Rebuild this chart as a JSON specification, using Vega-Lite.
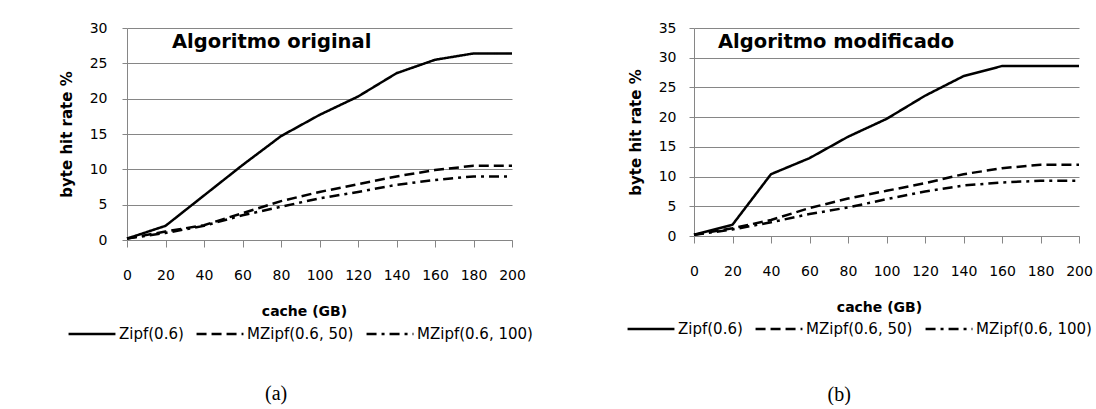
{
  "$schema": "https://vega.github.io/schema/vega-lite/v6.json",
  "background": "white",
  "padding": {"left": 59, "top": 21, "right": 0, "bottom": 0},
  "config": {
    "font": "DejaVu Sans",
    "view": {"stroke": null},
    "axis": {
      "labelFont": "DejaVu Sans", "labelFontSize": 14, "labelColor": "#000000", "labelOverlap": false, "labelFlush": false,
      "titleFont": "DejaVu Sans", "titleFontSize": 15, "titleFontWeight": "bold", "titleColor": "#000000",
      "domainColor": "#868686", "tickColor": "#868686", "gridColor": "#868686",
      "domainWidth": 1, "tickWidth": 1, "gridWidth": 1, "gridOpacity": 1
    },
    "legend": {
      "title": null, "orient": "none", "direction": "horizontal",
      "symbolType": "stroke", "symbolSize": 2200, "symbolStrokeWidth": 2.5, "symbolStrokeColor": "#000000",
      "labelFont": "DejaVu Sans", "labelFontSize": 15, "labelColor": "#000000", "labelOffset": 2, "columnPadding": 7
    },
    "title": {"font": "DejaVu Sans", "fontWeight": "bold", "fontSize": 19.5, "color": "#000000"},
    "concat": {"spacing": 93}
  },
  "data": {"values": [
    {"panel": "a", "series": "Zipf(0.6)", "cache": 0, "rate": 0.2},
    {"panel": "a", "series": "Zipf(0.6)", "cache": 20, "rate": 2.0},
    {"panel": "a", "series": "Zipf(0.6)", "cache": 40, "rate": 6.3},
    {"panel": "a", "series": "Zipf(0.6)", "cache": 60, "rate": 10.6},
    {"panel": "a", "series": "Zipf(0.6)", "cache": 80, "rate": 14.7},
    {"panel": "a", "series": "Zipf(0.6)", "cache": 100, "rate": 17.7},
    {"panel": "a", "series": "Zipf(0.6)", "cache": 120, "rate": 20.3},
    {"panel": "a", "series": "Zipf(0.6)", "cache": 140, "rate": 23.6},
    {"panel": "a", "series": "Zipf(0.6)", "cache": 160, "rate": 25.5},
    {"panel": "a", "series": "Zipf(0.6)", "cache": 180, "rate": 26.4},
    {"panel": "a", "series": "Zipf(0.6)", "cache": 200, "rate": 26.4},
    {"panel": "a", "series": "MZipf(0.6, 50)", "cache": 0, "rate": 0.2},
    {"panel": "a", "series": "MZipf(0.6, 50)", "cache": 20, "rate": 1.2},
    {"panel": "a", "series": "MZipf(0.6, 50)", "cache": 40, "rate": 2.1},
    {"panel": "a", "series": "MZipf(0.6, 50)", "cache": 60, "rate": 3.8},
    {"panel": "a", "series": "MZipf(0.6, 50)", "cache": 80, "rate": 5.5},
    {"panel": "a", "series": "MZipf(0.6, 50)", "cache": 100, "rate": 6.8},
    {"panel": "a", "series": "MZipf(0.6, 50)", "cache": 120, "rate": 7.9},
    {"panel": "a", "series": "MZipf(0.6, 50)", "cache": 140, "rate": 9.0},
    {"panel": "a", "series": "MZipf(0.6, 50)", "cache": 160, "rate": 9.9},
    {"panel": "a", "series": "MZipf(0.6, 50)", "cache": 180, "rate": 10.5},
    {"panel": "a", "series": "MZipf(0.6, 50)", "cache": 200, "rate": 10.5},
    {"panel": "a", "series": "MZipf(0.6, 100)", "cache": 0, "rate": 0.2},
    {"panel": "a", "series": "MZipf(0.6, 100)", "cache": 20, "rate": 1.0},
    {"panel": "a", "series": "MZipf(0.6, 100)", "cache": 40, "rate": 2.0},
    {"panel": "a", "series": "MZipf(0.6, 100)", "cache": 60, "rate": 3.5},
    {"panel": "a", "series": "MZipf(0.6, 100)", "cache": 80, "rate": 4.7},
    {"panel": "a", "series": "MZipf(0.6, 100)", "cache": 100, "rate": 5.9},
    {"panel": "a", "series": "MZipf(0.6, 100)", "cache": 120, "rate": 6.8},
    {"panel": "a", "series": "MZipf(0.6, 100)", "cache": 140, "rate": 7.8},
    {"panel": "a", "series": "MZipf(0.6, 100)", "cache": 160, "rate": 8.5},
    {"panel": "a", "series": "MZipf(0.6, 100)", "cache": 180, "rate": 9.0},
    {"panel": "a", "series": "MZipf(0.6, 100)", "cache": 200, "rate": 9.0},
    {"panel": "b", "series": "Zipf(0.6)", "cache": 0, "rate": 0.2},
    {"panel": "b", "series": "Zipf(0.6)", "cache": 20, "rate": 1.9},
    {"panel": "b", "series": "Zipf(0.6)", "cache": 40, "rate": 10.4},
    {"panel": "b", "series": "Zipf(0.6)", "cache": 60, "rate": 13.1},
    {"panel": "b", "series": "Zipf(0.6)", "cache": 80, "rate": 16.7},
    {"panel": "b", "series": "Zipf(0.6)", "cache": 100, "rate": 19.7},
    {"panel": "b", "series": "Zipf(0.6)", "cache": 120, "rate": 23.6},
    {"panel": "b", "series": "Zipf(0.6)", "cache": 140, "rate": 26.9},
    {"panel": "b", "series": "Zipf(0.6)", "cache": 160, "rate": 28.6},
    {"panel": "b", "series": "Zipf(0.6)", "cache": 180, "rate": 28.6},
    {"panel": "b", "series": "Zipf(0.6)", "cache": 200, "rate": 28.6},
    {"panel": "b", "series": "MZipf(0.6, 50)", "cache": 0, "rate": 0.2},
    {"panel": "b", "series": "MZipf(0.6, 50)", "cache": 20, "rate": 1.3},
    {"panel": "b", "series": "MZipf(0.6, 50)", "cache": 40, "rate": 2.7},
    {"panel": "b", "series": "MZipf(0.6, 50)", "cache": 60, "rate": 4.7},
    {"panel": "b", "series": "MZipf(0.6, 50)", "cache": 80, "rate": 6.3},
    {"panel": "b", "series": "MZipf(0.6, 50)", "cache": 100, "rate": 7.6},
    {"panel": "b", "series": "MZipf(0.6, 50)", "cache": 120, "rate": 8.9},
    {"panel": "b", "series": "MZipf(0.6, 50)", "cache": 140, "rate": 10.4},
    {"panel": "b", "series": "MZipf(0.6, 50)", "cache": 160, "rate": 11.4},
    {"panel": "b", "series": "MZipf(0.6, 50)", "cache": 180, "rate": 12.0},
    {"panel": "b", "series": "MZipf(0.6, 50)", "cache": 200, "rate": 12.0},
    {"panel": "b", "series": "MZipf(0.6, 100)", "cache": 0, "rate": 0.2},
    {"panel": "b", "series": "MZipf(0.6, 100)", "cache": 20, "rate": 1.1},
    {"panel": "b", "series": "MZipf(0.6, 100)", "cache": 40, "rate": 2.3},
    {"panel": "b", "series": "MZipf(0.6, 100)", "cache": 60, "rate": 3.7},
    {"panel": "b", "series": "MZipf(0.6, 100)", "cache": 80, "rate": 4.8},
    {"panel": "b", "series": "MZipf(0.6, 100)", "cache": 100, "rate": 6.2},
    {"panel": "b", "series": "MZipf(0.6, 100)", "cache": 120, "rate": 7.5},
    {"panel": "b", "series": "MZipf(0.6, 100)", "cache": 140, "rate": 8.5},
    {"panel": "b", "series": "MZipf(0.6, 100)", "cache": 160, "rate": 9.0},
    {"panel": "b", "series": "MZipf(0.6, 100)", "cache": 180, "rate": 9.3},
    {"panel": "b", "series": "MZipf(0.6, 100)", "cache": 200, "rate": 9.3}
  ]},
  "hconcat": [
    {
      "title": {"text": "(a)", "orient": "bottom", "anchor": "middle", "font": "Liberation Serif", "fontWeight": "normal", "fontSize": 20, "dx": -20, "offset": 42},
      "vconcat": [
        {
          "width": 385, "height": 212,
          "title": {"text": "Algoritmo original", "anchor": "start", "frame": "group", "baseline": "alphabetic", "offset": 0, "dx": 45, "dy": 46},
          "transform": [{"filter": "datum.panel == 'a'"}],
          "mark": {"type": "line", "color": "#000000", "strokeWidth": 2.5},
          "encoding": {
            "x": {"field": "cache", "type": "quantitative", "scale": {"domain": [0, 200]},
                  "axis": {"values": [0, 20, 40, 60, 80, 100, 120, 140, 160, 180, 200], "grid": false, "tickSize": 7, "labelPadding": 21, "title": "cache  (GB)", "titlePadding": 22, "titleFontSize": 14, "titleX": 177}},
            "y": {"field": "rate", "type": "quantitative", "scale": {"domain": [0, 30]},
                  "axis": {"values": [0, 5, 10, 15, 20, 25, 30], "grid": true, "tickSize": 5, "labelPadding": 15, "title": "byte hit rate %", "titlePadding": 15}},
            "strokeDash": {"field": "series", "type": "nominal",
                  "scale": {"domain": ["Zipf(0.6)", "MZipf(0.6, 50)", "MZipf(0.6, 100)"], "range": [[1, 0], [10, 5], [10, 5, 3, 5]]},
                  "legend": {"legendX": -60, "legendY": 281}}
          }
        }
      ]
    },
    {
      "title": {"text": "(b)", "orient": "bottom", "anchor": "middle", "font": "Liberation Serif", "fontWeight": "normal", "fontSize": 20, "dx": -20, "offset": 48},
      "vconcat": [
        {
          "width": 385, "height": 208,
          "title": {"text": "Algoritmo modificado", "anchor": "start", "frame": "group", "baseline": "alphabetic", "offset": 0, "dx": 24, "dy": 46},
          "transform": [{"filter": "datum.panel == 'b'"}],
          "mark": {"type": "line", "color": "#000000", "strokeWidth": 2.5},
          "encoding": {
            "x": {"field": "cache", "type": "quantitative", "scale": {"domain": [0, 200]},
                  "axis": {"values": [0, 20, 40, 60, 80, 100, 120, 140, 160, 180, 200], "grid": false, "tickSize": 7, "labelPadding": 21, "title": "cache  (GB)", "titlePadding": 22, "titleFontSize": 14, "titleX": 185}},
            "y": {"field": "rate", "type": "quantitative", "scale": {"domain": [0, 35]},
                  "axis": {"values": [0, 5, 10, 15, 20, 25, 30, 35], "grid": true, "tickSize": 5, "labelPadding": 13, "title": "byte hit rate %", "titlePadding": 15}},
            "strokeDash": {"field": "series", "type": "nominal",
                  "scale": {"domain": ["Zipf(0.6)", "MZipf(0.6, 50)", "MZipf(0.6, 100)"], "range": [[1, 0], [10, 5], [10, 5, 3, 5]]},
                  "legend": {"legendX": -68, "legendY": 276}}
          }
        }
      ]
    }
  ],
  "resolve": {"scale": {"strokeDash": "independent"}, "legend": {"strokeDash": "independent"}}
}
